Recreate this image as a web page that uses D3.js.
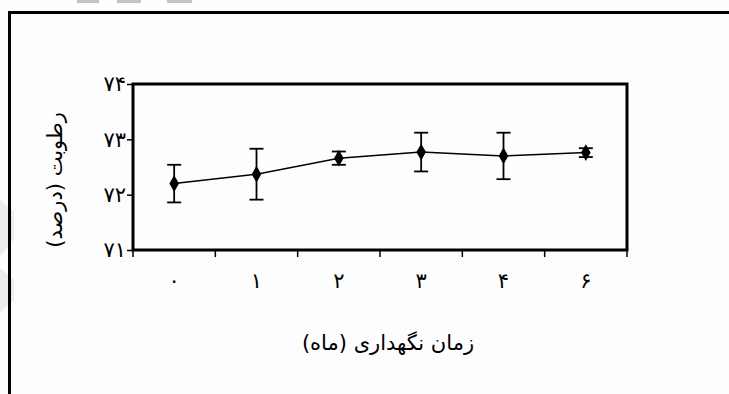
<!DOCTYPE html>
<html>
<head>
<meta charset="utf-8">
<script src="https://cdn.jsdelivr.net/npm/d3@7"></script>
<style>
  html, body { margin: 0; padding: 0; background: #fdfdfd; }
  svg { display: block; }
</style>
</head>
<body>
<svg id="chart" width="729" height="394"></svg>
<script>
// Storage time (months) and moisture content (%)
const months = ["۰", "۱", "۲", "۳", "۴", "۶"];
const moisture = [72.2, 72.37, 72.66, 72.77, 72.7, 72.76];
const errorBar = [0.34, 0.46, 0.12, 0.35, 0.42, 0.08];
const yTicks = [71, 72, 73, 74];
const yTickLabels = ["۷۱", "۷۲", "۷۳", "۷۴"];
const xTitle = "زمان نگهداری (ماه)";
const yTitle = "رطوبت (درصد)";

const svg = d3.select("#chart");
const font = "'DejaVu Sans', sans-serif";

// faint background marks
const wm = svg.append("g").attr("fill", "#c4c4c4");
[[77, 22], [117, 24], [167, 25]].forEach(([x, w]) =>
  wm.append("rect").attr("x", x).attr("y", 0).attr("width", w).attr("height", 3));
wm.append("path")
  .attr("d", "M0,200 L14,212 L14,240 L0,256 Z M0,268 L14,280 L14,300 L0,312 Z")
  .attr("fill", "#ededed");

// outer frame (continues past right and bottom edges)
svg.append("path")
  .attr("d", "M9.5,400 L9.5,12.5 L740,12.5")
  .attr("fill", "none").attr("stroke", "#000").attr("stroke-width", 3);

const plot = { left: 133, top: 84, right: 627, bottom: 250 };

const x = d3.scaleBand().domain(months).range([plot.left, plot.right]);
const y = d3.scaleLinear().domain([71, 74]).range([plot.bottom, plot.top]);

const g = svg.append("g");

// plot frame
g.append("rect")
  .attr("x", plot.left).attr("y", plot.top)
  .attr("width", plot.right - plot.left).attr("height", plot.bottom - plot.top)
  .attr("fill", "none").attr("stroke", "#000").attr("stroke-width", 3);

// y axis
const yAxis = g.append("g")
  .attr("transform", `translate(${plot.left},0)`)
  .call(d3.axisLeft(y).tickValues(yTicks).tickFormat((d, i) => yTickLabels[i]).tickSize(6).tickPadding(1));
yAxis.select(".domain").remove();
yAxis.selectAll("line").attr("stroke-width", 1.5);
yAxis.selectAll("text").attr("font-family", font).attr("font-size", 21).attr("fill", "#000");

// x axis: ticks on band boundaries, labels at band centers
const bounds = months.map(m => x(m)).concat([plot.right]);
g.append("g").selectAll("line").data(bounds).join("line")
  .attr("x1", d => d).attr("x2", d => d)
  .attr("y1", plot.bottom).attr("y2", plot.bottom + 7)
  .attr("stroke", "#000").attr("stroke-width", 1.5);
g.append("g").selectAll("text").data(months).join("text")
  .attr("x", d => x(d) + x.bandwidth() / 2)
  .attr("y", plot.bottom + 38)
  .attr("text-anchor", "middle")
  .attr("font-family", font).attr("font-size", 21)
  .text(d => d);

const cx = i => x(months[i]) + x.bandwidth() / 2;

// connecting line
g.append("path")
  .datum(moisture)
  .attr("d", d3.line().x((d, i) => cx(i)).y(d => y(d)))
  .attr("fill", "none").attr("stroke", "#000").attr("stroke-width", 1.5);

// error bars
const eb = g.append("g").attr("stroke", "#000").attr("stroke-width", 1.8);
moisture.forEach((v, i) => {
  const x0 = cx(i), lo = y(v - errorBar[i]), hi = y(v + errorBar[i]);
  eb.append("line").attr("x1", x0).attr("x2", x0).attr("y1", lo).attr("y2", hi);
  eb.append("line").attr("x1", x0 - 7).attr("x2", x0 + 7).attr("y1", lo).attr("y2", lo);
  eb.append("line").attr("x1", x0 - 7).attr("x2", x0 + 7).attr("y1", hi).attr("y2", hi);
});

// diamond markers
g.append("g").selectAll("path").data(moisture).join("path")
  .attr("transform", (d, i) => `translate(${cx(i)},${y(d)})`)
  .attr("d", d3.symbol(d3.symbolDiamond, 80)())
  .attr("fill", "#000");

// axis titles
svg.append("text")
  .attr("x", 388).attr("y", 350)
  .attr("text-anchor", "middle").attr("direction", "rtl")
  .attr("font-family", font).attr("font-size", 21)
  .text(xTitle);

svg.append("text")
  .attr("transform", "translate(62,180) rotate(-90)")
  .attr("text-anchor", "middle").attr("direction", "rtl")
  .attr("font-family", font).attr("font-size", 21)
  .text(yTitle);
</script>
</body>
</html>
